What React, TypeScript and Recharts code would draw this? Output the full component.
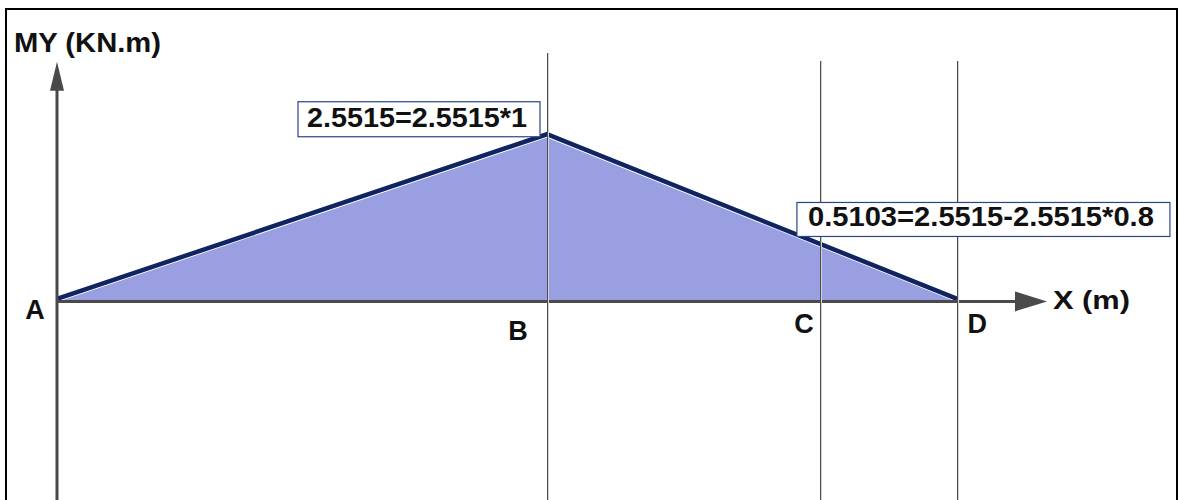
import React from 'react';
import { ComposedChart, Area, Line, XAxis, YAxis, ReferenceLine, ReferenceDot } from 'recharts';

// Points along the beam, positions as drawn on the diagram (m scale from A-B = 1 m)
const pointNames = ['A', 'B', 'C', 'D'];
const pointX = [0, 1, 1.557, 1.837];
const pointMoment = [0, 2.5515, 0.5103, 0];
// Vertices of the moment diagram polygon
const diagramNames = ['A', 'B', 'D'];
// Value annotations
const annotationPoints = ['B', 'C'];
const annotationTexts = ['2.5515=2.5515*1', '0.5103=2.5515-2.5515*0.8'];
const yAxisTitle = 'MY (KN.m)';
const xAxisTitle = 'X (m)';

const X_DOMAIN: [number, number] = [0, 2.2];
const Y_DOMAIN: [number, number] = [-3, 4.5];
const Y_ARROW_TIP = 3.715;
const X_ARROW_TIP = 2.0204;

const FONT = "'Liberation Sans', Arial, Helvetica, sans-serif";
const AXIS_COLOR = '#4a4a4a';
const LINE_COLOR = '#0f2461';
const FILL_COLOR = '#9a9fe2';
const BOX_COLOR = '#2a4585';

const idx = (n: string) => pointNames.indexOf(n);
const data = diagramNames.map((n) => ({ name: n, x: pointX[idx(n)], m: pointMoment[idx(n)] }));

const letterOffsets: Record<string, [number, number, string]> = {
  A: [-22, 18, 'middle'],
  B: [-29, 39, 'middle'],
  C: [-16, 32, 'middle'],
  D: [20, 32, 'middle'],
};

const Letter = (name: string) => (props: any) => {
  const { cx, cy } = props;
  const [dx, dy, anchor] = letterOffsets[name];
  return (
    <text x={cx + dx} y={cy + dy} textAnchor={anchor as any} fontFamily={FONT} fontWeight="bold" fontSize={27} fill="#111">
      {name}
    </text>
  );
};

const VLine = (props: any) => {
  const { cx, cy } = props;
  const x = Math.round(cx) + 0.5;
  return (
    <g>
      <line x1={x} y1={cy} x2={x} y2={500} stroke="#4d4d4d" strokeWidth={1} />
      <line x1={x + 1} y1={cy} x2={x + 1} y2={500} stroke="#d2d2d2" strokeWidth={1} />
    </g>
  );
};

const boxGeom: Record<string, { bx: number; by: number; bw: number; bh: number; tx: number; ty: number; tl: number }> = {
  B: { bx: -249, by: -35, bw: 242, bh: 35, tx: -240, ty: -10, tl: 220 },
  C: { bx: -23, by: -66, bw: 373, bh: 34, tx: -12, ty: -42, tl: 346 },
};

const Annotation = (name: string, text: string) => (props: any) => {
  const { cx, cy } = props;
  const g = boxGeom[name];
  return (
    <g>
      <rect x={cx + g.bx} y={cy + g.by} width={g.bw} height={g.bh} fill="#fff" stroke={BOX_COLOR} strokeWidth={1.2} />
      <text
        x={cx + g.tx}
        y={cy + g.ty}
        fontFamily={FONT}
        fontWeight="bold"
        fontSize={28}
        fill="#111"
        textLength={g.tl}
        lengthAdjust="spacingAndGlyphs"
      >
        {text}
      </text>
    </g>
  );
};

const ArrowUp = (props: any) => {
  const { cx, cy } = props;
  return (
    <g>
      <polygon points={`${cx},${cy} ${cx - 7},${cy + 29} ${cx + 7},${cy + 29}`} fill={AXIS_COLOR} />
      <text
        x={cx - 43}
        y={cy - 10}
        fontFamily={FONT}
        fontWeight="bold"
        fontSize={27}
        fill="#111"
        textLength={147}
        lengthAdjust="spacingAndGlyphs"
      >
        {yAxisTitle}
      </text>
    </g>
  );
};

const ArrowRight = (props: any) => {
  const { cx, cy } = props;
  return (
    <g>
      <polygon points={`${cx},${cy} ${cx - 32},${cy - 10} ${cx - 32},${cy + 10}`} fill={AXIS_COLOR} />
      <text
        x={cx + 6}
        y={cy + 8}
        fontFamily={FONT}
        fontWeight="bold"
        fontSize={25}
        fill="#111"
        textLength={77}
        lengthAdjust="spacingAndGlyphs"
      >
        {xAxisTitle}
      </text>
    </g>
  );
};

export default function App() {
  return (
    <div style={{ position: 'absolute', left: 0, top: 0, width: 1179, height: 500, overflow: 'hidden', background: '#fff' }}>
      <style>{`.navy-edge { transform: translate(0px, -2.5px); }`}</style>
      <div
        style={{
          position: 'absolute',
          left: 5,
          top: 8,
          width: 1169,
          height: 490,
          borderLeft: '2px solid #000',
          borderTop: '2px solid #000',
          borderRight: '2px solid #000',
        }}
      />
      <div style={{ position: 'absolute', left: 0, top: 0 }}>
        <ComposedChart width={1179} height={500} data={data} margin={{ top: 11, right: 44, bottom: 5, left: 57 }}>
          <XAxis type="number" dataKey="x" domain={X_DOMAIN} hide allowDataOverflow />
          <YAxis type="number" domain={Y_DOMAIN} hide allowDataOverflow />
          <Area
            type="linear"
            dataKey="m"
            stroke="#ffffff"
            strokeWidth={1.5}
            fill={FILL_COLOR}
            fillOpacity={1}
            dot={false}
            activeDot={false}
            isAnimationActive={false}
          />
          {/* Vertical section lines at B, C, D */}
          <ReferenceDot x={pointX[idx('B')]} y={3.849} r={0} shape={VLine} ifOverflow="visible" />
          <ReferenceDot x={pointX[idx('C')]} y={3.725} r={0} shape={VLine} ifOverflow="visible" />
          <ReferenceDot x={pointX[idx('D')]} y={3.725} r={0} shape={VLine} ifOverflow="visible" />
          <Line
            type="linear"
            dataKey="m"
            className="navy-edge"
            stroke={LINE_COLOR}
            strokeWidth={4.5}
            dot={false}
            activeDot={false}
            isAnimationActive={false}
          />
          {/* Axes */}
          <ReferenceLine
            segment={[{ x: 0, y: -3.2 }, { x: 0, y: Y_ARROW_TIP - 0.3 }]}
            stroke={AXIS_COLOR}
            strokeWidth={3}
            ifOverflow="visible"
          />
          <ReferenceLine
            segment={[{ x: 0, y: 0 }, { x: X_ARROW_TIP - 0.06, y: 0 }]}
            stroke={AXIS_COLOR}
            strokeWidth={3}
            ifOverflow="visible"
          />
          <ReferenceDot x={0} y={Y_ARROW_TIP} r={0} shape={ArrowUp} ifOverflow="visible" />
          <ReferenceDot x={X_ARROW_TIP} y={0} r={0} shape={ArrowRight} ifOverflow="visible" />
          {pointNames.map((n) => (
            <ReferenceDot key={n} x={pointX[idx(n)]} y={0} r={0} shape={Letter(n)} ifOverflow="visible" />
          ))}
          {annotationPoints.map((n, i) => (
            <ReferenceDot
              key={'ann' + n}
              x={pointX[idx(n)]}
              y={pointMoment[idx(n)]}
              r={0}
              shape={Annotation(n, annotationTexts[i])}
              ifOverflow="visible"
            />
          ))}
        </ComposedChart>
      </div>
    </div>
  );
}
